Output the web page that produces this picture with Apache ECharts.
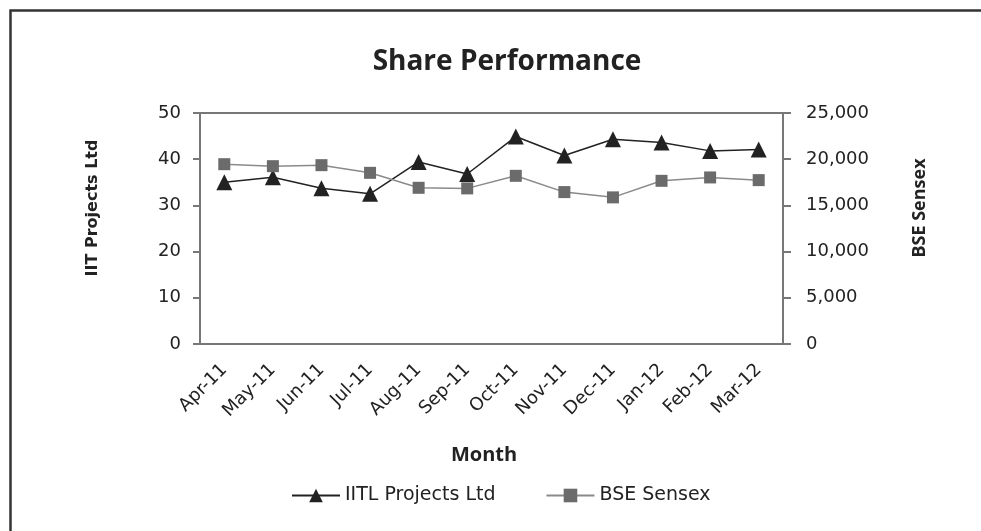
<!DOCTYPE html>
<html>
<head>
<meta charset="utf-8">
<script src="https://cdn.jsdelivr.net/npm/echarts@6/dist/echarts.min.js"></script>
<style>
  html, body { margin: 0; padding: 0; background: #fff; }
  #chart { width: 981px; height: 531px; }
</style>
</head>
<body>
<div id="chart"></div>
<script>
const months = ['Apr-11', 'May-11', 'Jun-11', 'Jul-11', 'Aug-11', 'Sep-11', 'Oct-11', 'Nov-11', 'Dec-11', 'Jan-12', 'Feb-12', 'Mar-12']
const iitlPrices = [35.0, 36.1, 33.7, 32.5, 39.4, 36.8, 44.9, 40.8, 44.3, 43.6, 41.8, 42.1]
const sensexValues = [19460, 19245, 19355, 18525, 16905, 16840, 18200, 16440, 15870, 17660, 18025, 17735]
const leftTicks = { min: 0, max: 50, interval: 10 }
const rightTicks = { min: 0, max: 25000, interval: 5000 }

const chart = echarts.init(document.getElementById('chart'))

const tickFont = 'DejaVu Sans'
const axisColor = '#777'

const option = {
    backgroundColor: '#fff',
    animation: false,
    title: {
        text: 'Share Performance',
        left: 502,
        top: 43,
        textAlign: 'center',
        textStyle: {
            fontFamily: 'Open Sans',
            fontWeight: 'bold',
            fontSize: 28,
            color: '#222'
        }
    },
    grid: {
        left: 200,
        right: 198,
        top: 113,
        bottom: 187,
        show: true,
        borderColor: axisColor,
        borderWidth: 2
    },
    legend: {
        left: 286,
        top: 481,
        itemWidth: 48,
        itemHeight: 17,
        itemGap: 50,
        textStyle: { fontFamily: tickFont, fontSize: 19, color: '#222' },
        data: ['IITL Projects Ltd', 'BSE Sensex']
    },
    xAxis: {
        type: 'category',
        data: months,
        boundaryGap: true,
        axisLine: { lineStyle: { color: axisColor, width: 2 } },
        axisTick: { length: 7, lineStyle: { color: axisColor, width: 2 } },
        axisLabel: {
            rotate: 45,
            interval: 0,
            margin: 23,
            fontFamily: tickFont,
            fontSize: 18,
            color: '#222'
        }
    },
    yAxis: [
        {
            type: 'value',
            position: 'left',
            min: leftTicks.min,
            max: leftTicks.max,
            interval: leftTicks.interval,
            splitLine: { show: false },
            axisLine: { show: true, lineStyle: { color: axisColor, width: 2 } },
            axisTick: { show: true, length: 7, lineStyle: { color: axisColor, width: 2 } },
            axisLabel: { margin: 19, fontFamily: tickFont, fontSize: 18, color: '#222' }
        },
        {
            type: 'value',
            position: 'right',
            min: rightTicks.min,
            max: rightTicks.max,
            interval: rightTicks.interval,
            splitLine: { show: false },
            axisLine: { show: true, lineStyle: { color: axisColor, width: 2 } },
            axisTick: { show: true, length: 8, lineStyle: { color: axisColor, width: 2 } },
            axisLabel: {
                margin: 23,
                fontFamily: tickFont,
                fontSize: 18,
                color: '#222',
                formatter: v => v.toLocaleString('en-US')
            }
        }
    ],
    graphic: [
        {
            // outer frame, right and bottom run off the picture
            type: 'rect',
            shape: { x: 10.5, y: 10.5, width: 1000, height: 600 },
            style: { fill: 'none', stroke: '#333', lineWidth: 2.5 },
            silent: true
        },
        {
            type: 'text',
            x: 93,
            y: 208,
            rotation: Math.PI / 2,
            style: {
                text: 'IIT Projects Ltd',
                font: 'bold 16px "DejaVu Sans"',
                fill: '#222',
                align: 'center',
                verticalAlign: 'middle'
            }
        },
        {
            type: 'text',
            x: 920,
            y: 208,
            rotation: Math.PI / 2,
            style: {
                text: 'BSE Sensex',
                font: 'bold 18px "Open Sans"',
                fill: '#222',
                align: 'center',
                verticalAlign: 'middle'
            }
        },
        {
            type: 'text',
            x: 484,
            y: 455,
            style: {
                text: 'Month',
                font: 'bold 20px "Open Sans"',
                fill: '#222',
                align: 'center',
                verticalAlign: 'middle'
            }
        }
    ],
    series: [
        {
            name: 'IITL Projects Ltd',
            type: 'line',
            yAxisIndex: 0,
            data: iitlPrices,
            symbol: 'triangle',
            symbolSize: 16,
            lineStyle: { color: '#222', width: 1.5 },
            itemStyle: { color: '#222' }
        },
        {
            name: 'BSE Sensex',
            type: 'line',
            yAxisIndex: 1,
            data: sensexValues,
            symbol: 'rect',
            symbolSize: 12,
            lineStyle: { color: '#8a8a8a', width: 1.5 },
            itemStyle: { color: '#6b6b6b' }
        }
    ]
}

chart.setOption(option)
</script>
</body>
</html>
